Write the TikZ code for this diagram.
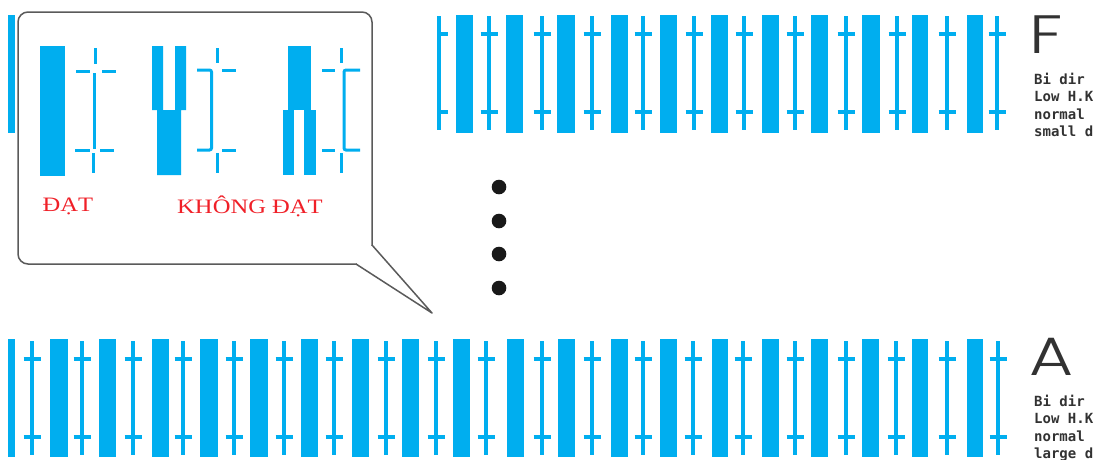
\documentclass[tikz,border=0pt]{standalone}
\usepackage{fontspec}
\newfontfamily\vnserif{Liberation Serif}
\newfontfamily\monof{DejaVu Sans Mono}
\IfFontExistsTF{Poppins Light}{\newfontfamily\bigsans{Poppins Light}}{\newfontfamily\bigsans{Poppins}}
\definecolor{cyanb}{RGB}{0,174,239}
\definecolor{redt}{RGB}{240,32,40}
\definecolor{boxgray}{RGB}{90,90,90}
\definecolor{txtgray}{RGB}{50,50,50}
\begin{document}
\begin{tikzpicture}[x=1pt,y=-1pt,
  bar/.style={fill=cyanb},
  tline/.style={draw=cyanb,line width=3.4pt},
  cline/.style={draw=cyanb,line width=3pt},
  okstyle/.style={inner sep=0pt,text=redt,font=\vnserif\fontsize{20.5}{24}\selectfont,xscale=1.2},
  bigletter/.style={inner sep=0pt,anchor=base west,text=txtgray,xscale=1.25,font=\bigsans\fontsize{54}{60}\selectfont},
  monoline/.style={inner sep=0pt,anchor=base west,text=txtgray,font=\monof\bfseries\fontsize{14}{16}\selectfont},
  dot/.style={fill=black!90}]
\useasboundingbox (0,0) rectangle (1097,459);
\clip (0,0) rectangle (1097,459);

% ---------- top row (F) ----------
\fill[bar] (8,15) rectangle (15,133);
\foreach \a/\b in {456/473,506/523,557/575,611/628,660/677,711/728,762/779,811/828,862/880,912/928,967/983}
  \fill[bar] (\a,15) rectangle (\b,133);
\foreach \x in {489,542,592,643,694,744,795,846,897,947,997}{
  \draw[tline] (\x,16) -- (\x,130);
  \draw[tline] (\x-8.5,34) -- (\x+8.5,34);
  \draw[tline] (\x-8.5,112) -- (\x+8.5,112);
}
\draw[tline] (439,16) -- (439,130);
\draw[tline] (437,34) -- (448,34);
\draw[tline] (437,112) -- (448,112);

% ---------- bottom row (A) ----------
\foreach \a/\b in {8/15,50/68,99/116,152/169,200/218,250/268,301/318,352/369,402/419,453/470,507/524,558/575,611/628,660/677,712/728,762/779,811/828,862/879,912/928,967/983}
  \fill[bar] (\a,339) rectangle (\b,457);
\foreach \x in {32,82,133,183,234,284,334,386,436,486,542,592,643,693,743,795,846,896,947,998}{
  \draw[tline] (\x,341) -- (\x,455);
  \draw[tline] (\x-8.5,359) -- (\x+8.5,359);
  \draw[tline] (\x-8.5,437) -- (\x+8.5,437);
}

% ---------- callout ----------
\draw[boxgray,line width=1.5pt,fill=white,rounded corners=10pt] (18,12) rectangle (372,264);
\fill[white] (356.5,245.5) rectangle (375,267);
\draw[boxgray,line width=1.5pt,line join=round] (372,245) -- (432,313) -- (356,264);

% shape 1 (good)
\fill[bar] (40,46) rectangle (65,176);
\draw[cline] (95.5,48) -- (95.5,64);
\draw[cline] (76,71) -- (90,71);
\draw[cline] (102,71) -- (116,71);
\draw[cline] (94.5,73) -- (94.5,149);
\draw[cline] (75,150) -- (90,150);
\draw[cline] (100,150) -- (114,150);
\draw[cline] (93.5,153) -- (93.5,173);

% shape 2 (bad)
\fill[bar] (152,46) -- (163,46) -- (163,110) -- (175,110) -- (175,46) -- (186,46) -- (186,110)
  -- (181,110) -- (181,175) -- (157,175) -- (157,110) -- (152,110) -- cycle;
\draw[cline] (217,48) -- (217,63);
\draw[cline,rounded corners=2pt] (197,70) -- (211.5,70) -- (211.5,150) -- (197,150);
\draw[cline] (222,70) -- (236,70);
\draw[cline] (222,150) -- (236,150);
\draw[cline] (217,153) -- (217,173);

% shape 3 (bad)
\fill[bar] (288,46) rectangle (311,110);
\fill[bar] (283,110) rectangle (294,175);
\fill[bar] (304,110) rectangle (316,175);
\draw[cline] (341,48) -- (341,63);
\draw[cline,rounded corners=2pt] (360,70) -- (344,70) -- (344,150) -- (360,150);
\draw[cline] (322,70) -- (335,70);
\draw[cline] (322,150) -- (335,150);
\draw[cline] (341,153) -- (341,173);

\node[okstyle] (ok) at (68,206) {ĐẠT};
\node[okstyle] (nok) at (250,206) {KHÔNG ĐẠT};

% ---------- dots ----------
\foreach \y in {187,221,254,288}
  \fill[dot] (499,\y) circle[radius=7.3];

% ---------- labels at right ----------
\node[bigletter] (F) at (1029,53) {F};
\node[monoline] (f1) at (1034,84) {Bi dir};
\node[monoline] (f2) at (1034,101.5) {Low H.K};
\node[monoline] (f3) at (1034,119) {normal};
\node[monoline] (f4) at (1034,136.5) {small d};

\node[bigletter] (A) at (1029,375) {A};
\node[monoline] (a1) at (1034,406) {Bi dir};
\node[monoline] (a2) at (1034,423.5) {Low H.K};
\node[monoline] (a3) at (1034,441) {normal};
\node[monoline] (a4) at (1034,458.5) {large d};
\end{tikzpicture}
\end{document}
